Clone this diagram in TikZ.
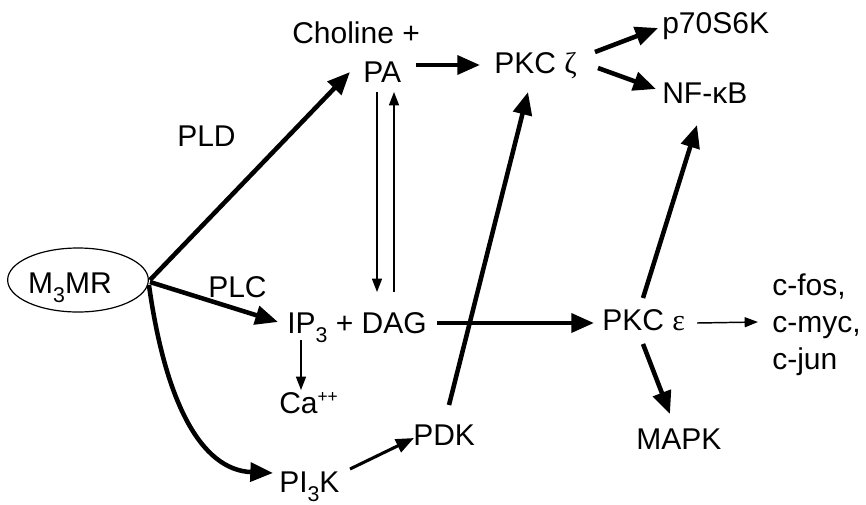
\documentclass[tikz,border=0pt]{standalone}
\usepackage{fontspec}
\setmainfont{Liberation Sans}
\newfontfamily\grk{Liberation Serif}
\usetikzlibrary{arrows.meta,shapes.geometric}

% lowered subscript and raised superscript in the label font
\newcommand\lowsub[1]{\lower7pt\hbox{\fontsize{16}{16}\selectfont #1}}
\newcommand\highsup[1]{\raise8pt\hbox{\fontsize{13}{13}\selectfont #1}}

\begin{document}
\begin{tikzpicture}[x=0.75pt,y=-0.75pt,
  lbl/.style={anchor=base west, inner sep=0pt, font=\fontsize{22.5}{27}\selectfont},
  heavy/.style={line width=3.4pt, -{Triangle[length=17pt,width=14pt]}},
  medium/.style={line width=2.3pt, -{Triangle[length=13.5pt,width=10.5pt]}},
  light/.style={line width=1.1pt, -{Triangle[length=10pt,width=7.5pt]}},
]
\useasboundingbox (0,0) rectangle (866,504);

% receptor
\node[draw, ellipse, line width=0.9pt, minimum width=96pt, minimum height=48pt,
      inner sep=0pt, text height=22pt, text depth=2.5pt,
      font=\fontsize{22.5}{27}\selectfont] (m3mr) at (78,280) {M\lowsub{3}MR\kern12pt};

% species and enzymes
\node[lbl] (choline) at (292,43)  {Choline +};
\node[lbl] (pa)      at (363,82)  {PA};
\node[lbl] (pkcz)    at (494,73)  {PKC {\grk ζ}};
\node[lbl] (p70)     at (662,33)  {p70S6K};
\node[lbl] (nfkb)    at (662,103) {NF-κB};
\node[lbl] (ipdag)   at (287,333) {IP\lowsub{3} + DAG};
\node[lbl] (ca)      at (279,413) {Ca\highsup{++}};
\node[lbl] (pdk)     at (413,445) {PDK};
\node[lbl] (pi3k)    at (279,492) {PI\lowsub{3}K};
\node[lbl] (pkce)    at (602,330) {PKC {\grk ε}};
\node[lbl] (cfos)    at (772,295) {c-fos,};
\node[lbl] (cmyc)    at (772,332) {c-myc,};
\node[lbl] (cjun)    at (772,369) {c-jun};
\node[lbl] (mapk)    at (636,449) {MAPK};
\node[lbl] (pld)     at (177,146) {PLD};
\node[lbl] (plc)     at (208,297) {PLC};

% connectors
\draw[heavy] ([shift={(1,0)}]m3mr.east) -- ([shift={(-13,-10)}]pa.base west);
\draw[heavy] ([shift={(1,2)}]m3mr.east) -- ([shift={(-9,-11)}]ipdag.base west);
\draw[heavy] ([shift={(0,5)}]m3mr.east) .. controls (165,400) and (200,470) .. ([shift={(-6,-19)}]pi3k.base west);

\draw[heavy] ([shift={(53,-17)}]pa.base west) -- ([shift={(-14,-8)}]pkcz.base west);
\draw[light] ([shift={(14,10)}]pa.base west) -- ([shift={(90,-41)}]ipdag.base west);
\draw[light] ([shift={(107,-41)}]ipdag.base west) -- ([shift={(31,10)}]pa.base west);

\draw[heavy] ([shift={(101,-21)}]pkcz.base west) -- ([shift={(-4,-5)}]p70.base west);
\draw[heavy] ([shift={(104,-5)}]pkcz.base west) -- ([shift={(-6,-14)}]nfkb.base west);

\draw[heavy] ([shift={(150,-10)}]ipdag.base west) -- ([shift={(-8,-7)}]pkce.base west);
\draw[heavy] ([shift={(36,-40)}]pdk.base west) -- ([shift={(34,19)}]pkcz.base west);

\draw[heavy] ([shift={(41,-32)}]pkce.base west) -- ([shift={(35,22)}]nfkb.base west);
\draw[light] ([shift={(95,-7)}]pkce.base west) -- ([shift={(-14,-10)}]cmyc.base west);
\draw[heavy] ([shift={(41,14)}]pkce.base west) -- ([shift={(34,-35)}]mapk.base west);

\draw[light] ([shift={(14,7)}]ipdag.base west) -- ([shift={(22,-23)}]ca.base west);
\draw[medium] ([shift={(71,-23)}]pi3k.base west) -- ([shift={(1,-7)}]pdk.base west);
\end{tikzpicture}
\end{document}
